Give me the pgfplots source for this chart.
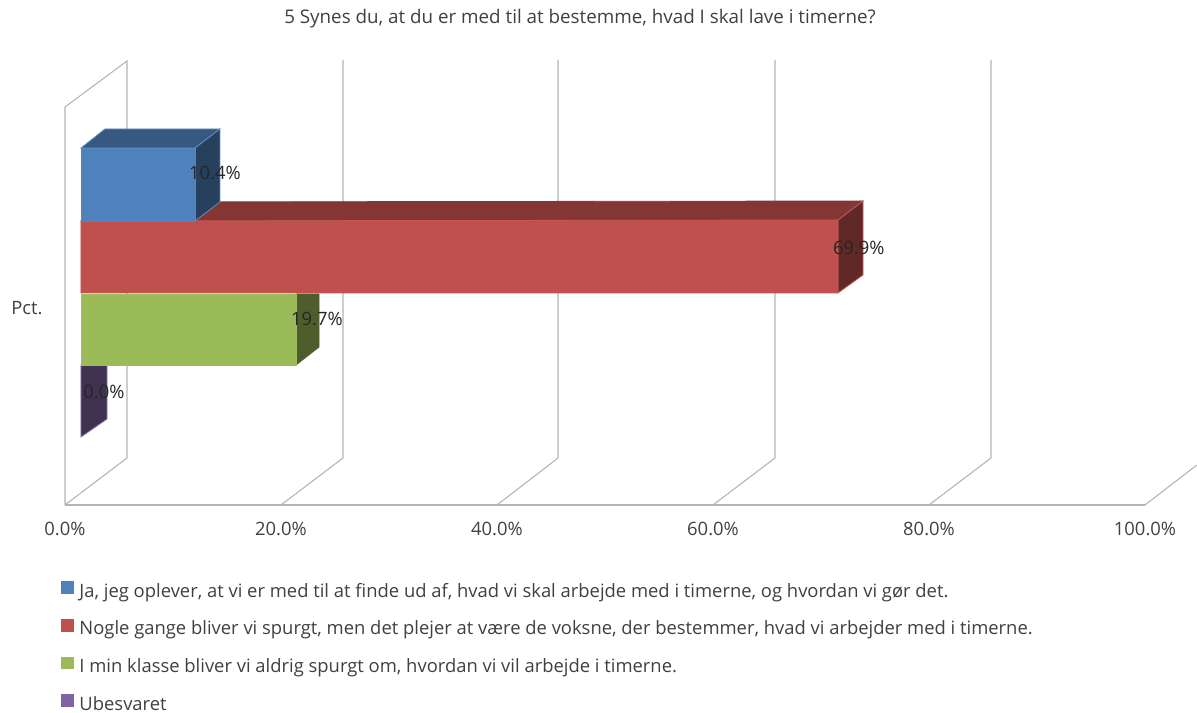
\documentclass[border=0pt]{standalone}
\usepackage{fontspec}
\setmainfont{Open Sans}
\usepackage{pgfplots}
\pgfplotsset{compat=1.18}
\definecolor{cblue}{HTML}{4F81BD}
\definecolor{cred}{HTML}{C0504D}
\definecolor{cgreen}{HTML}{9BBB59}
\definecolor{cpurple}{HTML}{8064A2}
\definecolor{gridc}{HTML}{B4B4B4}
\definecolor{txt}{HTML}{404040}
\newcommand{\chartfont}{\fontsize{13.8pt}{16pt}\selectfont}
\pgfplotsset{
  wall/.style={forget plot, draw=gridc, line width=0.8pt, no markers},
  face/.style n args={2}{forget plot, fill=#1, draw=#2, line width=0.6pt, no markers},
  legend image code/.code={\fill[#1, draw=none] (0pt,-0.5pt) rectangle (9.5pt,9pt);}
}
\begin{document}
\begin{tikzpicture}
\useasboundingbox (-48.75pt,-156pt) rectangle (849pt,378.75pt);
\begin{axis}[
  x=8.1pt, y=0.75pt,
  xmin=0, xmax=104.8, ymin=0, ymax=445,
  clip=false,
  axis line style={draw=none},
  major tick length=0pt,
  tick align=outside,
  xtick={0,20,40,60,80,100},
  xticklabel={\pgfmathprintnumber[fixed,fixed zerofill,precision=1]{\tick}\%},
  /pgf/number format/assume math mode=true,
  xtick pos=bottom,
  ytick={197},
  yticklabels={Pct.},
  ytick pos=left,
  tick label style={font=\chartfont, text=txt},
  xticklabel style={yshift=-9.5pt},
  yticklabel style={xshift=-13.25pt},
  title={5 Synes du, at du er med til at bestemme, hvad I skal lave i timerne?},
  title style={at={(0.455,1.074)}, anchor=center, font=\fontsize{14.1pt}{16pt}\selectfont, text=txt},
  legend cell align=left,
  legend style={
    at={(axis cs:-0.35,-76)}, anchor=north west, draw=none, fill=none,
    font=\chartfont, text=txt,
    row sep=12.3pt, column sep=3pt, inner sep=0pt,
    nodes={text height=9pt, text depth=3pt, inner sep=1pt},
  },
]
\addlegendimage{fill=cblue}
\addlegendentry{Ja, jeg oplever, at vi er med til at finde ud af, hvad vi skal arbejde med i timerne, og hvordan vi gør det.}
\addlegendimage{fill=cred}
\addlegendentry{Nogle gange bliver vi spurgt, men det plejer at være de voksne, der bestemmer, hvad vi arbejder med i timerne.}
\addlegendimage{fill=cgreen}
\addlegendentry{I min klasse bliver vi aldrig spurgt om, hvordan vi vil arbejde i timerne.}
\addlegendimage{fill=cpurple}
\addlegendentry{Ubesvaret}

% floor and walls
\addplot[wall] coordinates {(0,0) (100,0)};
\addplot[wall] coordinates {(0,0) (0,398) (5.74,444) (5.74,47) (0,0)};
\addplot[wall] coordinates {(20,0) (25.74,47) (25.74,445)};
\addplot[wall] coordinates {(40,0) (45.65,47) (45.65,445)};
\addplot[wall] coordinates {(60,0) (65.74,47) (65.74,445)};
\addplot[wall] coordinates {(80,0) (85.74,47) (85.74,445)};
\addplot[wall] coordinates {(100,0) (104.8,40)};

% Ubesvaret 0.0
\addplot[face={cpurple!50!black}{cpurple!90!white}] coordinates {(1.48,140) (3.89,140) (3.89,86) (1.48,68)} -- cycle;

% green 19.7
\addplot[face={cgreen!50!black}{cgreen!50!black}] coordinates {(21.39,211) (23.52,211) (23.52,158) (21.39,140)} -- cycle;
\addplot[face={cgreen}{cgreen!95!white}] coordinates {(1.48,211) (21.39,211) (21.39,140) (1.48,140)} -- cycle;

% red 69.9
\addplot[face={cred!68!black}{cred!68!black}] coordinates {(1.48,284) (3.80,303) (73.89,304) (71.57,285)} -- cycle;
\addplot[face={cred!50!black}{cred!92!white}] coordinates {(71.57,285) (73.89,304) (73.89,230) (71.57,212)} -- cycle;
\addplot[face={cred}{cred!96!white}] coordinates {(1.48,284) (71.57,285) (71.57,212) (1.48,212)} -- cycle;

% blue 10.4
\addplot[face={cblue!68!black}{cblue!90!white}] coordinates {(1.48,357) (3.70,376) (14.35,376) (12.04,357)} -- cycle;
\addplot[face={cblue!50!black}{cblue!90!white}] coordinates {(12.04,357) (14.35,376) (14.35,303) (12.04,284)} -- cycle;
\addplot[face={cblue}{cblue!95!white}] coordinates {(1.48,357) (12.04,357) (12.04,284) (1.48,284)} -- cycle;

% data labels
\addplot[forget plot, only marks, mark=none, point meta=explicit symbolic,
  nodes near coords,
  every node near coord/.style={anchor=center, inner sep=0pt, text=black!85, font=\chartfont}]
  coordinates {(13.89,332) [10.4\%] (73.5,257) [69.9\%] (23.33,186) [19.7\%] (3.61,113) [0.0\%]};
\end{axis}
\end{tikzpicture}
\end{document}
